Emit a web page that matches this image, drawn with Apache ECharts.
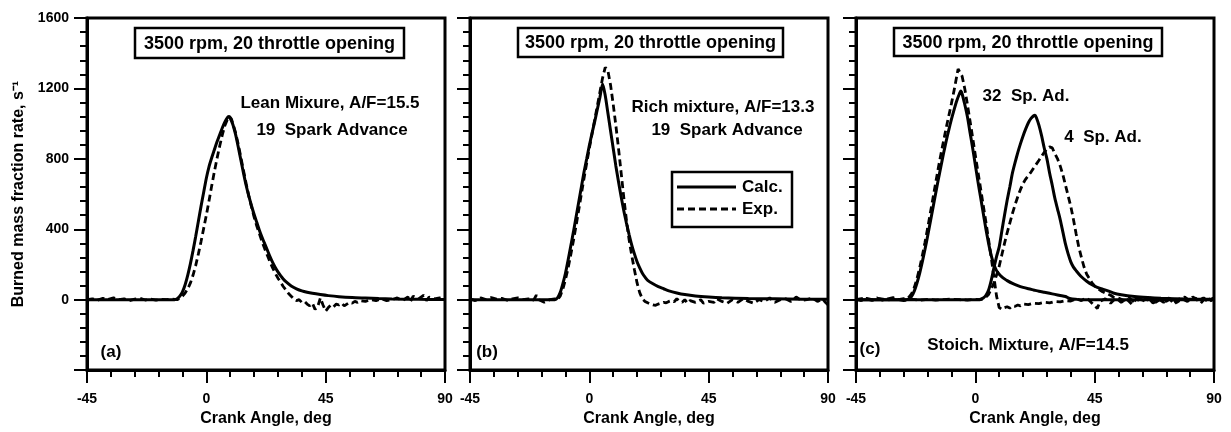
<!DOCTYPE html>
<html><head><meta charset="utf-8">
<script src="https://cdn.jsdelivr.net/npm/echarts@6/dist/echarts.min.js"></script>
<style>html,body{margin:0;padding:0;background:#fff}#c{width:1231px;height:432px}</style>
</head><body><div id="c"></div>
<script>
// ---- data ----
const xMin = -45, xMax = 90, xStep = 45;
const yMin = -400, yMax = 1600, yStep = 400;
const xName = 'Crank Angle, deg';
const yName = 'Burned mass fraction rate, s\u207B\u00B9';
const panelTitle = '3500 rpm, 20 throttle opening';
const legendNames = ['Calc.', 'Exp.'];

// panel (a) lean mixture
const aCalc = [[-45,0],[-12,0],[-11,5],[-10,20],[-9,45],[-8,85],[-7,140],[-6,205],[-5,280],[-4,360],[-3,445],[-2,530],[-1,610],[0,690],[1,755],[2,805],[3,850],[4,895],[5,935],[6,975],[7,1010],[8,1035],[8.6,1040],[9,1032],[10,995],[11,940],[12,870],[13,795],[14,720],[15,650],[16,590],[17,535],[18,485],[19,440],[20,395],[21,355],[22,318],[23,282],[24,245],[25,212],[26,183],[27,158],[28,137],[29,118],[30,102],[32,78],[34,62],[36,50],[38,42],[40,36],[43,29],[46,23],[50,17],[55,12],[60,9],[65,6],[70,4],[80,2],[90,1]];
const aExp = [[-45,0],[-43,5],[-41,-3],[-39,8],[-37,2],[-35,10],[-33,0],[-31,5],[-29,-5],[-27,3],[-25,8],[-23,-2],[-21,4],[-19,-3],[-17,2],[-15,0],[-13,3],[-11,0],[-10,8],[-9,20],[-8,38],[-7,62],[-6,95],[-5,140],[-4,195],[-3,260],[-2,330],[-1,405],[0,480],[1,560],[2,645],[3,725],[4,800],[5,870],[6,935],[7,990],[8,1025],[8.7,1040],[9.5,1025],[10,1000],[11,950],[12,885],[13,810],[14,735],[15,660],[16,590],[17,530],[18,470],[19,420],[20,375],[21,330],[22,290],[23,252],[24,215],[25,180],[26,150],[27,122],[28,100],[29,75],[30,55],[31,35],[32,20],[33,5],[34,-5],[35,0],[36,-15],[37,-10],[38,-25],[39,-35],[40,-20],[41,-55],[42,-40],[43,10],[44,-30],[45,-65],[46,-45],[47,-30],[48,-40],[49,-25],[50,-30],[51,-20],[52,-35],[53,-25],[54,-15],[55,-20],[56,-10],[57,-15],[58,-5],[60,-10],[62,0],[64,-5],[66,5],[68,-5],[70,0],[72,10],[74,-5],[76,15],[77,-10],[78,20],[80,5],[82,25],[83,-5],[84,15],[86,5],[88,10],[90,5]];

// panel (b) rich mixture
const bCalc = [[-45,0],[-13,0],[-12,10],[-11,40],[-10,90],[-9,150],[-8,225],[-7,305],[-6,385],[-5,470],[-4,555],[-3,640],[-2,725],[-1,800],[0,875],[1,945],[2,1010],[3,1080],[4,1150],[5,1225],[6,1160],[7,1060],[8,960],[9,860],[10,760],[11,670],[12,585],[13,505],[14,435],[15,370],[16,310],[17,260],[18,215],[19,180],[20,150],[21,128],[22,110],[24,90],[26,74],[28,62],[30,50],[33,38],[36,29],[40,21],[45,15],[50,11],[60,7],[70,5],[80,3],[90,2]];
const bExp = [[-45,5],[-43,-5],[-41,10],[-39,0],[-37,12],[-35,3],[-33,8],[-31,-3],[-29,5],[-27,10],[-25,0],[-23,5],[-21,-3],[-20,25],[-19,0],[-17,-15],[-15,0],[-13,5],[-12,0],[-11,20],[-10,60],[-9,115],[-8,180],[-7,255],[-6,335],[-5,420],[-4,510],[-3,600],[-2,690],[-1,775],[0,860],[1,940],[2,1020],[3,1100],[4,1180],[5,1260],[6,1320],[6.5,1330],[7,1300],[8,1220],[9,1110],[10,990],[11,860],[12,720],[13,580],[14,450],[15,340],[16,250],[17,170],[18,95],[19,40],[20,5],[21,-10],[22,-18],[23,-25],[24,-30],[25,-32],[26,-25],[27,-20],[28,-15],[29,-18],[30,-10],[31,-5],[32,-12],[33,5],[34,-8],[35,-15],[36,0],[37,-20],[38,-5],[40,-15],[42,0],[43,-20],[45,-10],[47,-15],[48,5],[50,-10],[52,-20],[54,0],[56,-15],[58,5],[60,-10],[62,-20],[64,0],[66,-10],[68,10],[70,-15],[72,0],[74,5],[76,-10],[78,15],[80,-5],[82,0],[84,10],[86,-10],[88,5],[89,-15],[90,-30]];

// panel (c) stoichiometric, 32 and 4 deg spark advance
const c32Calc = [[-45,0],[-26,0],[-25,5],[-24,20],[-23,50],[-22,95],[-21,150],[-20,215],[-19,285],[-18,360],[-17,440],[-16,520],[-15,600],[-14,680],[-13,755],[-12,830],[-11,900],[-10,965],[-9,1025],[-8,1080],[-7,1130],[-6,1170],[-5.5,1185],[-5,1170],[-4,1110],[-3,1040],[-2,950],[-1,860],[0,765],[1,670],[2,580],[3,490],[4,400],[5,320],[6,250],[7,200],[8,165],[9,145],[10,130],[11,118],[12,108],[14,92],[16,80],[18,70],[20,62],[22,55],[24,48],[26,42],[28,36],[30,30],[32,24],[34,18],[35,10],[36,5],[38,2],[40,0],[90,0]];
const c32Exp = [[-45,5],[-43,-5],[-41,8],[-39,0],[-37,10],[-35,-3],[-33,5],[-31,12],[-29,0],[-27,6],[-26,5],[-25,15],[-24,35],[-23,70],[-22,120],[-21,180],[-20,250],[-19,325],[-18,405],[-17,490],[-16,575],[-15,660],[-14,745],[-13,825],[-12,900],[-11,975],[-10,1045],[-9,1115],[-8,1190],[-7,1270],[-6.5,1310],[-6,1300],[-5,1270],[-4,1200],[-3,1110],[-2,1015],[-1,920],[0,820],[1,725],[2,630],[3,535],[4,440],[5,340],[6,240],[7,130],[8,20],[9,-45],[10,-55],[11,-45],[12,-40],[13,-48],[14,-35],[15,-38],[16,-30],[17,-35],[18,-25],[20,-28],[22,-20],[24,-22],[26,-15],[28,-18],[30,-10],[32,-12],[34,-5],[36,-8],[38,5],[40,-5],[42,10],[44,-20],[46,-50],[47,-10],[49,5],[51,-20],[53,10],[55,-15],[57,5],[59,-25],[61,10],[63,-10],[65,15],[67,-20],[69,5],[71,-15],[73,10],[75,-25],[77,5],[79,15],[81,-10],[83,10],[85,-20],[87,15],[89,-5],[90,20]];
const c4Calc = [[-45,0],[1.5,0],[2,3],[3,10],[4,25],[5,55],[6,110],[7,180],[8,245],[9,300],[10,390],[11,480],[12,565],[13,640],[14,720],[15,780],[16,835],[17,885],[18,930],[19,970],[20,1005],[21,1030],[22,1045],[22.5,1048],[23,1035],[24,990],[25,930],[26,860],[27,800],[28,720],[29,650],[30,575],[31,515],[32,455],[33,385],[34,315],[35,260],[36,215],[37,185],[38,165],[40,130],[42,105],[44,85],[46,70],[48,60],[50,50],[52,38],[55,28],[60,18],[65,12],[70,8],[80,4],[90,2]];
const c4Exp = [[-45,0],[-42,8],[-39,-4],[-36,6],[-33,-2],[-30,5],[-27,-5],[-24,3],[-21,-3],[-18,2],[-15,-2],[-12,0],[-9,3],[-6,0],[-3,-2],[0,2],[2,0],[3,5],[4,15],[5,30],[6,60],[7,95],[8,140],[9,190],[10,255],[11,320],[12,380],[13,435],[14,490],[15,540],[16,585],[17,625],[18,660],[19,685],[20,705],[21,725],[22,748],[23,770],[24,792],[25,815],[26,838],[27,855],[28,868],[29,862],[30,830],[31,800],[32,760],[33,710],[34,650],[35,590],[36,530],[37,455],[38,375],[39,300],[40,240],[41,185],[42,145],[43,120],[44,95],[45,78],[46,65],[47,55],[48,45],[49,38],[50,32],[51,25],[52,15],[54,10],[56,-5],[58,10],[60,-15],[62,5],[64,-10],[66,10],[68,-15],[70,5],[72,-10],[74,10],[76,-15],[78,5],[80,-10],[82,15],[84,-5],[86,10],[88,-15],[90,10]];

// ---- chart ----
const FONT = '"Liberation Sans", Arial, Helvetica, sans-serif';
const chart = echarts.init(document.getElementById('c'), null, {renderer: 'canvas'});
const gridLefts = [87, 470, 856];
const grids = gridLefts.map(l => ({left: l, top: 18, width: 358, height: 360, show: true, borderColor: '#000', borderWidth: 3, backgroundColor: 'transparent'}));
const tickStyle = {color: '#000', width: 2};
const xAxes = gridLefts.map((l, i) => ({
  type: 'value', gridIndex: i, min: xMin, max: xMax, interval: xStep,
  name: xName, nameLocation: 'middle', nameGap: 40,
  nameTextStyle: {color: '#000', fontSize: 16, fontWeight: 'bold', fontFamily: FONT},
  axisLine: {onZero: false, lineStyle: {color: '#000', width: 3}},
  axisTick: {show: true, length: 13, lineStyle: tickStyle},
  minorTick: {show: true, splitNumber: 5, length: 7, lineStyle: tickStyle},
  splitLine: {show: false},
  axisLabel: {color: '#000', fontSize: 14, fontWeight: 'bold', fontFamily: FONT, margin: 22, showMinLabel: true, showMaxLabel: true}
}));
const yAxes = gridLefts.map((l, i) => ({
  type: 'value', gridIndex: i, min: yMin, max: yMax, interval: yStep,
  name: i === 0 ? yName : '', nameLocation: 'middle', nameGap: 60,
  nameTextStyle: {color: '#000', fontSize: 16, fontWeight: 'bold', fontFamily: FONT},
  axisLine: {onZero: false, lineStyle: {color: '#000', width: 3}},
  axisTick: {show: true, length: 13, lineStyle: tickStyle},
  minorTick: {show: true, splitNumber: 5, length: 7, lineStyle: tickStyle},
  splitLine: {show: false},
  axisLabel: {show: i === 0, color: '#000', fontSize: 14, fontWeight: 'bold', fontFamily: FONT, margin: 18,
    formatter: v => (v === yMin ? '' : String(v))}
}));
function calc(data, gi) {
  return {name: legendNames[0], type: 'line', xAxisIndex: gi, yAxisIndex: gi, data: data, showSymbol: false, symbol: 'none', smooth: 0.25, lineStyle: {color: '#000', width: 3, type: 'solid'}, itemStyle: {color: '#000'}, z: 3, animation: false};
}
function exp(data, gi) {
  return {name: legendNames[1], type: 'line', xAxisIndex: gi, yAxisIndex: gi, data: data, showSymbol: false, symbol: 'none', lineStyle: {color: '#000', width: 2.8, type: [7, 4]}, itemStyle: {color: '#000'}, z: 2, animation: false};
}
function txt(t, x, y, size, align) {
  return {type: 'text', z: 100, style: {text: t, x: x, y: y, fill: '#000', font: 'bold ' + size + 'px ' + FONT, textAlign: align || 'center', textVerticalAlign: 'middle'}};
}
function box(x, y, w, h) {
  return {type: 'rect', z: 99, shape: {x: x, y: y, width: w, height: h}, style: {fill: '#fff', stroke: '#000', lineWidth: 2.5}};
}
function seg(x1, y1, x2, y2, dash) {
  return {type: 'line', z: 100, shape: {x1: x1, y1: y1, x2: x2, y2: y2}, style: {stroke: '#000', lineWidth: 3, lineDash: dash || null}};
}
const graphics = [
  box(135, 28, 269, 30), txt(panelTitle, 269.5, 44, 18),
  box(518, 28, 265, 29), txt(panelTitle, 650.5, 43.5, 18),
  box(894, 28, 268, 28), txt(panelTitle, 1028, 43, 18),
  txt('Lean Mixure, A/F=15.5', 330, 103, 17),
  txt('19  Spark Advance', 332, 130, 17),
  txt('(a)', 111, 352, 17),
  txt('Rich mixture, A/F=13.3', 723, 107, 17),
  txt('19  Spark Advance', 727, 130, 17),
  txt('(b)', 487, 352, 17),
  txt('32  Sp. Ad.', 1026, 96, 17),
  txt('4  Sp. Ad.', 1103, 137, 17),
  txt('(c)', 870, 349, 17),
  txt('Stoich. Mixture, A/F=14.5', 1028, 345, 17),
  // legend
  box(672, 172, 120, 55),
  seg(677, 187, 736, 187),
  seg(677, 209, 736, 209, [7, 4]),
  txt(legendNames[0], 742, 187, 17, 'left'),
  txt(legendNames[1], 742, 209, 17, 'left')
];
chart.setOption({
  animation: false,
  backgroundColor: '#fff',
  textStyle: {fontFamily: FONT},
  grid: grids,
  xAxis: xAxes,
  yAxis: yAxes,
  series: [
    calc(aCalc, 0), exp(aExp, 0),
    calc(bCalc, 1), exp(bExp, 1),
    calc(c32Calc, 2), exp(c32Exp, 2),
    calc(c4Calc, 2), exp(c4Exp, 2)
  ],
  graphic: graphics
});
</script></body></html>
